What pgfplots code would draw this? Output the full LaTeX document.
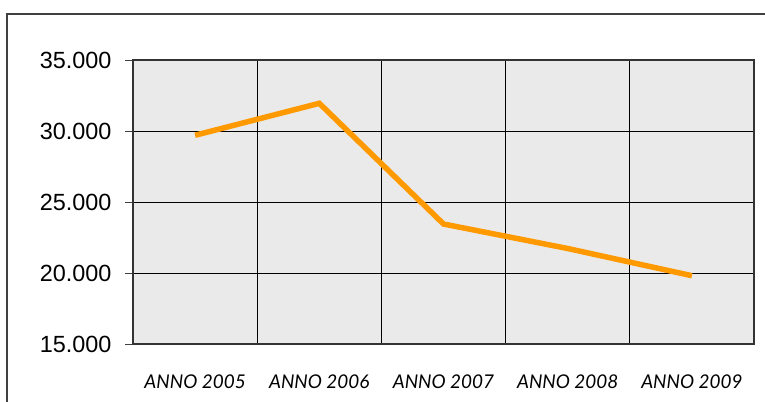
\documentclass[border=0pt]{standalone}
\usepackage{fontspec}
\setmainfont{Liberation Sans}
\newfontfamily\lato{Lato Italic}
\usepackage{pgfplots}
\pgfplotsset{compat=1.18}
\definecolor{lineorange}{RGB}{255,153,0}
\definecolor{bggray}{RGB}{234,234,234}
\begin{document}
\begin{tikzpicture}[x=1bp,y=1bp]
\path[use as bounding box] (0,0) rectangle (765,401);
\draw[line width=1.3bp, black!75] (7,-10) -- (7,387) -- (780,387);
\begin{axis}[
  at={(133bp,57bp)}, anchor=south west, scale only axis,
  width=621bp, height=284bp,
  xmin=-0.5, xmax=4.5, ymin=15000, ymax=35000,
  xtick={0,1,2,3,4},
  xticklabels={ANNO 2005,ANNO 2006,ANNO 2007,ANNO 2008,ANNO 2009},
  minor xtick={0.5,1.5,2.5,3.5},
  xminorgrids=true,
  ytick={15000,20000,25000,30000,35000},
  ymajorgrids=true,
  xtick style={draw=none},
  minor x tick style={draw=none},
  ytick pos=left,
  tick align=outside,
  major tick length=8bp,
  ytick style={black!75, line width=0.8bp},
  grid style={black, line width=0.7bp},
  minor grid style={black, line width=0.7bp},
  axis line style={black!80, line width=1.2bp},
  axis background/.style={fill=bggray},
  scaled y ticks=false,
  yticklabel style={font=\fontsize{23.5}{23.5}\selectfont, /pgf/number format/assume math mode=true, /pgf/number format/fixed, /pgf/number format/precision=0, /pgf/number format/1000 sep={.}, xshift=-10bp},
  xticklabel style={font=\lato\fontsize{19}{19}\selectfont, anchor=base, yshift=-36bp},
]
\addplot[color=lineorange, line width=5.5bp] coordinates {(0,29700) (1,31950) (2,23450) (3,21725) (4,19810)};
\end{axis}
\end{tikzpicture}
\end{document}
